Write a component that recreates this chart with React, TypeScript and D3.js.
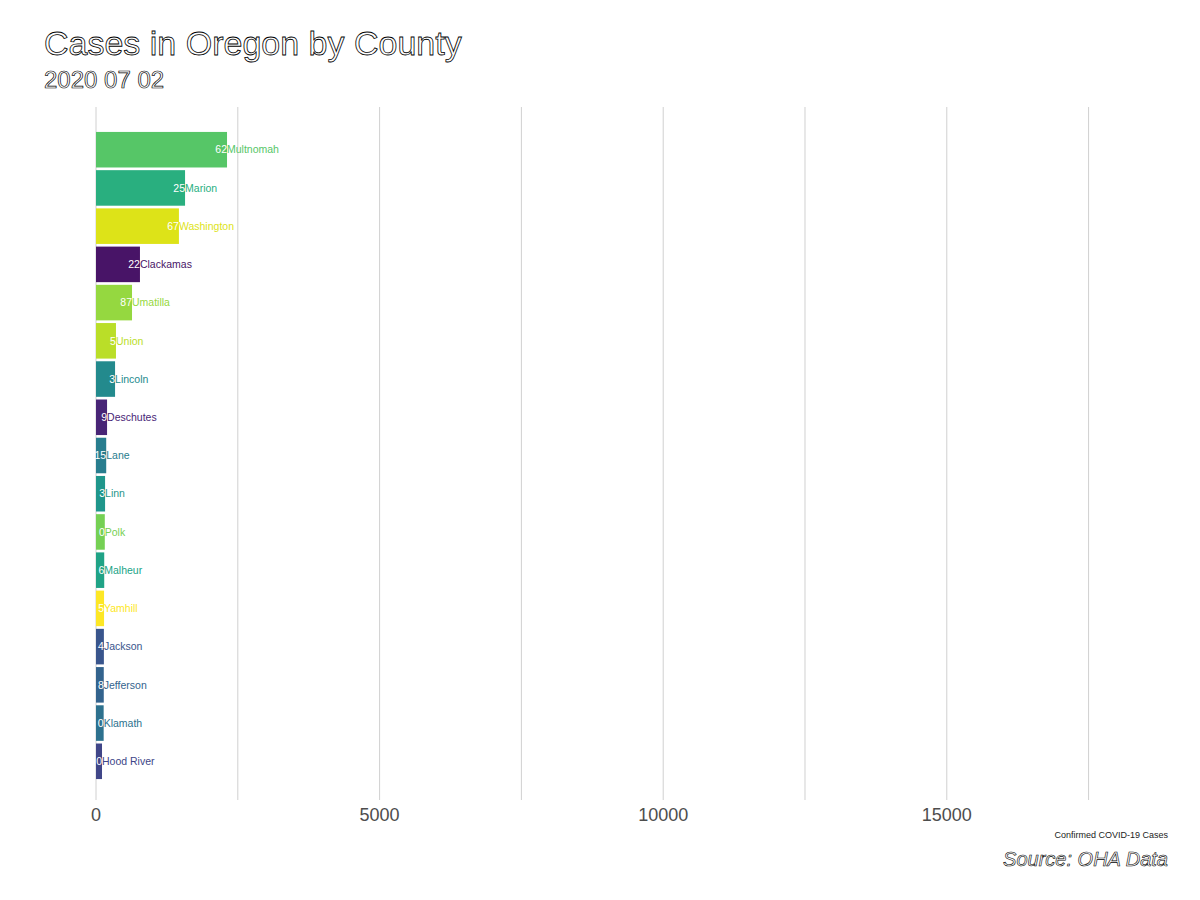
import React from "react";
import * as d3 from "d3";

const width = 1200;
const height = 900;
const margin = { top: 107, right: 32, bottom: 100, left: 96 };

// counties in the frame, top to bottom
const counties = [
  "Multnomah", "Marion", "Washington", "Clackamas", "Umatilla", "Union",
  "Lincoln", "Deschutes", "Lane", "Linn", "Polk", "Malheur", "Yamhill",
  "Jackson", "Jefferson", "Klamath", "Hood River",
];
// cumulative confirmed cases
const cases = [
  2310, 1570, 1462, 775, 635, 352, 336, 195, 180, 160, 155, 145, 142,
  139, 137, 135, 106,
];
// new cases shown inside the bars
const newCases = [62, 25, 67, 22, 87, 5, 3, 9, 15, 3, 0, 6, 5, 4, 8, 0, 0];

// every county that shows up in the race, for the viridis colour key
const allCounties = [
  "Benton", "Clackamas", "Deschutes", "Douglas", "Hood River", "Jackson",
  "Jefferson", "Klamath", "Lane", "Lincoln", "Linn", "Malheur", "Marion",
  "Morrow", "Multnomah", "Polk", "Umatilla", "Union", "Washington", "Yamhill",
];

const xMax = 18900;
const tickLabels = [0, 5000, 10000, 15000];
const gridStep = 2500;

const title = "Cases in Oregon by County";
const subtitle = "2020 07 02";
const xTitle = "Confirmed COVID-19 Cases";
const caption = "Source: OHA Data";

const font = "'Liberation Sans', Arial, sans-serif";

export default function App() {
  const x = d3
    .scaleLinear()
    .domain([0, xMax])
    .range([margin.left, width - margin.right]);

  // bands sit a touch lower than the panel top, like the ggplot frame
  const y = d3
    .scaleBand<string>()
    .domain(counties)
    .range([margin.top + 2, height - margin.bottom + 2])
    .paddingInner(0.07)
    .paddingOuter(0.6);

  const color = d3
    .scaleOrdinal<string, string>()
    .domain(allCounties)
    .range(d3.quantize(d3.interpolateViridis, allCounties.length));

  const grid = d3.range(0, xMax, gridStep);
  const bars = counties.map((c, i) => ({
    name: c,
    value: cases[i],
    label: newCases[i],
  }));

  return (
    <div style={{ position: "absolute", left: 0, top: 0 }}>
      <svg width={width} height={height} style={{ display: "block", background: "#fff" }}>
        {grid.map((g) => (
          <line
            key={g}
            x1={x(g)}
            x2={x(g)}
            y1={margin.top}
            y2={height - margin.bottom}
            stroke="#d0d0d0"
            strokeWidth={1}
          />
        ))}

        {bars.map((d) => (
          <rect
            key={d.name}
            x={x(0)}
            y={y(d.name)}
            width={x(d.value) - x(0)}
            height={y.bandwidth()}
            fill={color(d.name)}
          />
        ))}

        {bars.map((d) => {
          const cy = (y(d.name) as number) + y.bandwidth() / 2;
          return (
            <g key={d.name + "-lab"} fontFamily={font} fontSize={10.5}>
              <text x={x(d.value)} y={cy} dy="0.35em" textAnchor="end" fill="#fff">
                {d.label}
              </text>
              <text x={x(d.value)} y={cy} dy="0.35em" textAnchor="start" fill={color(d.name)}>
                {d.name}
              </text>
            </g>
          );
        })}

        {tickLabels.map((t) => (
          <text
            key={t}
            x={x(t)}
            y={815}
            dy="0.35em"
            textAnchor="middle"
            fontFamily={font}
            fontSize={18}
            fill="#4d4d4d"
          >
            {t}
          </text>
        ))}

        <text
          x={width - margin.right}
          y={838}
          textAnchor="end"
          fontFamily={font}
          fontSize={9}
          fill="#222"
        >
          {xTitle}
        </text>

        <text
          x={44}
          y={55}
          fontFamily={font}
          fontSize={34}
          fill="#fff"
          stroke="#000"
          strokeWidth={0.8}
        >
          {title}
        </text>
        <text
          x={44}
          y={88}
          fontFamily={font}
          fontSize={24}
          fill="#fff"
          stroke="#000"
          strokeWidth={0.7}
        >
          {subtitle}
        </text>
        <text
          x={width - margin.right}
          y={866}
          textAnchor="end"
          fontFamily={font}
          fontSize={20}
          fontStyle="italic"
          fill="#fff"
          stroke="#000"
          strokeWidth={0.6}
        >
          {caption}
        </text>
      </svg>
    </div>
  );
}
